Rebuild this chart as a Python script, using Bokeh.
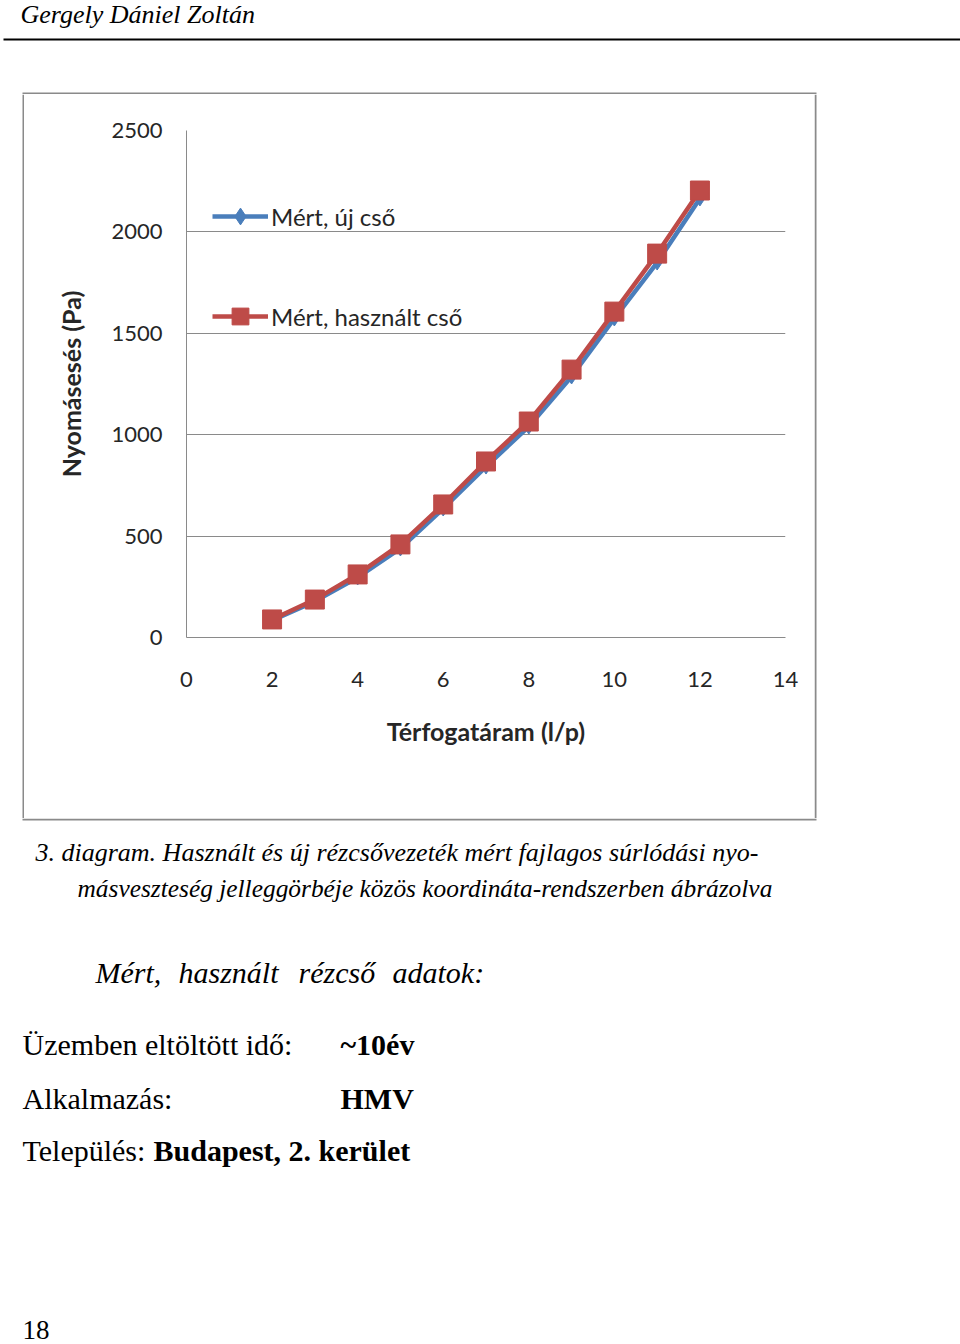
from bokeh.plotting import figure
from bokeh.layouts import column, row
from bokeh.models import (Range1d, FixedTicker, Label, BoxAnnotation, Legend, LegendItem)
from bokeh.embed import file_html
from bokeh.resources import INLINE

# ---- data ----
flow = [2, 3, 4, 5, 6, 7, 8, 9, 10, 11, 12]
new_pipe = [84, 178, 296, 439, 636, 843, 1040, 1287, 1573, 1849, 2165]
used_pipe = [89, 187, 311, 459, 656, 868, 1065, 1321, 1607, 1893, 2204]
x_ticks = [0, 2, 4, 6, 8, 10, 12, 14]
y_ticks = [0, 500, 1000, 1500, 2000, 2500]
series_names = ["Mért, új cső", "Mért, használt cső"]
x_title = "Térfogatáram (l/p)"
y_title = "Nyomásesés (Pa)"

W, H = 960, 1344
GRID = "#8a8a8a"
SERIF = "Liberation Serif"
CH_FONT = "Lato"
TICK_COLOR = "#262626"
BASE_SHIFT = 8   # renderer puts the alphabetic baseline lower than asked


def panel(x0, y0, w, h):
    """A blank figure that covers the page region [x0, x0+w] x [y0, y0+h],
    with data coordinates equal to page pixels."""
    f = figure(width=w, height=h, output_backend="svg", toolbar_location=None,
               x_range=Range1d(x0, x0 + w), y_range=Range1d(y0 + h, y0),
               min_border=0, min_border_left=0, min_border_right=0,
               min_border_top=0, min_border_bottom=0, frame_align=False)
    f.axis.visible = False
    f.grid.visible = False
    f.outline_line_color = None
    f.background_fill_color = "white"
    f.border_fill_color = "white"
    return f


def rule(f, left, right, top, bottom, color):
    f.add_layout(BoxAnnotation(left=left, right=right, top=top, bottom=bottom,
                               fill_color=color, fill_alpha=1, line_color=None))


def page_text(f, txt, cx, cy, size, style="normal"):
    f.add_layout(Label(x=cx, y=cy - BASE_SHIFT, text=txt, text_font=SERIF,
                       text_font_size=f"{size}px", text_font_style=style,
                       text_color="black", text_baseline="alphabetic",
                       text_align="left"))


# ---- page header ----
head = panel(0, 0, W, 94)
page_text(head, "Gergely Dániel Zoltán", 20, 22, 26, "italic")
rule(head, 3, 960, 38, 40, "black")
rule(head, 22, 816, 92, 94, GRID)

# ---- border strips around the chart ----
CX0, CY0, CX1, CY1 = 24, 94, 814, 818
left_strip = panel(0, CY0, CX0, CY1 - CY0)
rule(left_strip, 22, 24, CY0, CY1, GRID)
right_strip = panel(CX1, CY0, W - CX1, CY1 - CY0)
rule(right_strip, 814, 816, CY0, CY1, GRID)

# ---- the chart ----
FL, FR, FT, FB = 186, 785, 130, 637   # frame edges on the page
p = figure(width=CX1 - CX0, height=CY1 - CY0, output_backend="svg", toolbar_location=None,
           x_range=Range1d(0, 14), y_range=Range1d(0, 2500),
           min_border_left=FL - CX0, min_border_right=CX1 - FR,
           min_border_top=FT - CY0, min_border_bottom=CY1 - FB, frame_align=False)
p.background_fill_color = "white"
p.border_fill_color = "white"
p.outline_line_color = None

for ax in (p.xaxis[0], p.yaxis[0]):
    ax.major_tick_in = 0
    ax.major_tick_out = 0
    ax.minor_tick_in = 0
    ax.minor_tick_out = 0
    ax.axis_line_color = GRID
    ax.axis_line_width = 1
    ax.major_label_text_font = CH_FONT
    ax.major_label_text_font_size = "22px"
    ax.major_label_text_color = TICK_COLOR
    ax.axis_label_text_font = CH_FONT
    ax.axis_label_text_font_size = "25px"
    ax.axis_label_text_font_style = "bold"
    ax.axis_label_text_color = TICK_COLOR

p.xaxis.ticker = FixedTicker(ticks=x_ticks)
p.yaxis.ticker = FixedTicker(ticks=y_ticks)
p.xaxis.major_label_standoff = 34
p.yaxis.major_label_standoff = 24
p.xaxis.axis_label = x_title
p.yaxis.axis_label = y_title
p.xaxis.axis_label_standoff = 26
p.yaxis.axis_label_standoff = 22

p.xgrid.grid_line_color = None
p.ygrid.grid_line_color = GRID
p.ygrid.grid_line_width = 1

BLUE = "#4a7ebb"
RED = "#be4b48"

bl = p.line(flow, new_pipe, line_color=BLUE, line_width=4.5)
bm = p.scatter(flow, new_pipe, marker="diamond", size=15, fill_color=BLUE, line_color=BLUE)
rl = p.line(flow, used_pipe, line_color=RED, line_width=4.5)
rm = p.scatter(flow, used_pipe, marker="square", size=19, fill_color=RED, line_color=RED)

legend = Legend(items=[LegendItem(label=series_names[0], renderers=[bl, bm]),
                       LegendItem(label=series_names[1], renderers=[rl, rm])],
                location=(26, FB - 337), orientation="vertical",
                glyph_width=56, glyph_height=42, spacing=58,
                label_standoff=3, padding=0, margin=0,
                label_text_font=CH_FONT, label_text_font_size="24px",
                label_text_color=TICK_COLOR,
                background_fill_alpha=0, border_line_color=None)
p.add_layout(legend, "center")

# ---- text below the chart ----
body = panel(0, CY1, W, H - CY1)
rule(body, 22, 816, 818, 820, GRID)
page_text(body, "3. diagram. Használt és új rézcsővezeték mért fajlagos súrlódási nyo-", 35, 860, 26, "italic")
page_text(body, "másveszteség jelleggörbéje közös koordináta-rendszerben ábrázolva", 77, 895, 25.4, "italic")
page_text(body, "Mért,", 95, 980, 30, "italic")
page_text(body, "használt", 178, 980, 30, "italic")
page_text(body, "rézcső", 298, 980, 30, "italic")
page_text(body, "adatok:", 392, 980, 30, "italic")
page_text(body, "Üzemben eltöltött idő:", 22, 1052, 30)
page_text(body, "~10év", 340, 1052, 30, "bold")
page_text(body, "Alkalmazás:", 22, 1106, 30)
page_text(body, "HMV", 340, 1106, 30, "bold")
page_text(body, "Település:", 22, 1158, 30)
page_text(body, "Budapest, 2. kerület", 153, 1158, 30, "bold")
page_text(body, "18", 22, 1337, 27)

page = column(head, row(left_strip, p, right_strip, spacing=0), body, spacing=0)
open("out.html", "w").write(file_html(page, INLINE))
